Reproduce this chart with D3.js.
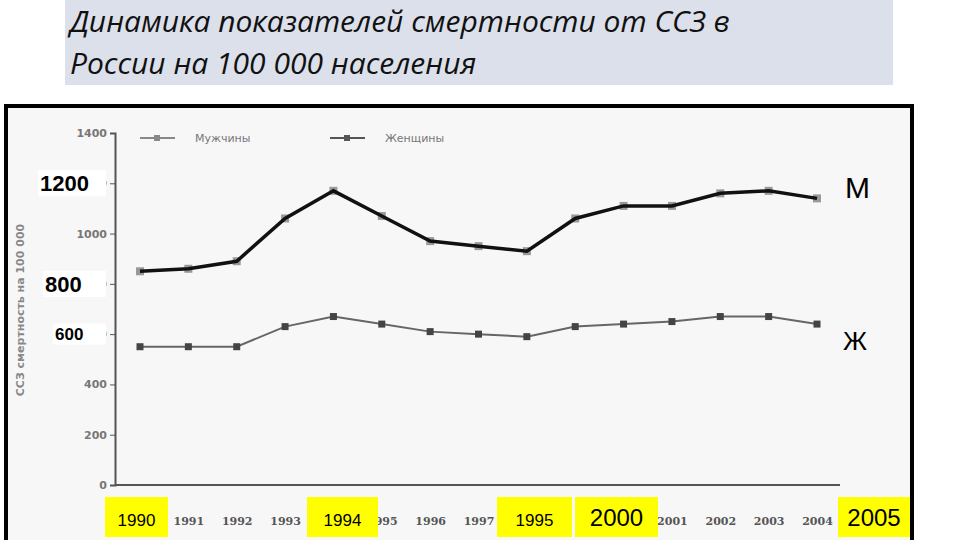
<!DOCTYPE html>
<html><head><meta charset="utf-8">
<script src="https://cdn.jsdelivr.net/npm/d3@7"></script>
<style>body{margin:0;background:#fff}svg{display:block}</style>
</head><body><div id="chart"></div>
<script>
(function () {
  "use strict";

  const years = ["1990","1991","1992","1993","1994","1995","1996","1997","1998","1999","2000","2001","2002","2003","2004"];
  const men = [850, 860, 890, 1060, 1170, 1070, 970, 950, 930, 1060, 1110, 1110, 1160, 1170, 1140];
  const women = [550, 550, 550, 630, 670, 640, 610, 600, 590, 630, 640, 650, 670, 670, 640];
  const yTicks = [0, 200, 400, 600, 800, 1000, 1200, 1400];
  const hiddenYears = ["1990", "1994", "1998", "1999"];
  const bigYLabels = [["1200", 1200, 40, 22], ["800", 800, 45, 22], ["600", 600, 55, 17]];
  const yellowLabels = [["1990", 105, 63], ["1994", 307, 71], ["1995", 497, 75], ["2000", 575, 83], ["2005", 838, 72]];

  const W = 960, H = 540;
  const svg = d3.select("#chart").append("svg").attr("width", W).attr("height", H);

  // Title
  svg.append("rect").attr("x", 65).attr("y", 0).attr("width", 828).attr("height", 85).attr("fill", "#dbe0ea");
  const title = svg.append("text").attr("font-family", "Open Sans, sans-serif").attr("font-style", "italic")
    .attr("font-size", 30).attr("fill", "#111");
  title.append("tspan").attr("x", 70).attr("y", 32).text("Динамика показателей смертности от ССЗ в");
  title.append("tspan").attr("x", 70).attr("y", 74).text("России на 100 000 населения");

  // Frame
  svg.append("rect").attr("x", 6).attr("y", 106).attr("width", 906).attr("height", 440)
    .attr("fill", "#f7f7f7").attr("stroke", "#000").attr("stroke-width", 4);

  const x = d3.scalePoint().domain(years).range([140, 817]);
  const y = d3.scaleLinear().domain([0, 1400]).range([485, 133]);

  const g = svg.append("g");
  g.append("g").attr("transform", "translate(115,0)")
    .call(d3.axisLeft(y).tickValues(yTicks).tickSize(5).tickFormat(d3.format("d")))
    .call(a => a.select(".domain").attr("stroke", "#555").attr("stroke-width", 2))
    .call(a => a.selectAll("line").attr("stroke", "#555"))
    .call(a => a.selectAll("text").attr("font-family", "DejaVu Sans").attr("font-weight", "bold")
      .attr("font-size", 11).attr("fill", "#777"));
  g.append("line").attr("x1", 115).attr("x2", 840).attr("y1", 485).attr("y2", 485).attr("stroke", "#555").attr("stroke-width", 2);
  g.append("g").attr("transform", "translate(0,485)")
    .call(d3.axisBottom(x).tickSize(0).tickPadding(32)
      .tickFormat(d => hiddenYears.includes(d) ? "" : d))
    .call(a => a.select(".domain").remove())
    .call(a => a.selectAll("text").attr("font-family", "DejaVu Serif").attr("font-weight", "bold")
      .attr("font-size", 11).attr("fill", "#555"));

  g.append("text").attr("transform", "translate(24,310) rotate(-90)").attr("text-anchor", "middle")
    .attr("font-family", "DejaVu Sans").attr("font-weight", "bold").attr("font-size", 11).attr("fill", "#888")
    .text("ССЗ смертность на 100 000");

  // Legend
  [["Мужчины", 140, "#888"], ["Женщины", 330, "#555"]].forEach(([t, lx, c]) => {
    g.append("line").attr("x1", lx).attr("x2", lx + 35).attr("y1", 138).attr("y2", 138).attr("stroke", c).attr("stroke-width", 2);
    g.append("rect").attr("x", lx + 14).attr("y", 135).attr("width", 6).attr("height", 6).attr("fill", c);
    g.append("text").attr("x", lx + 55).attr("y", 142).attr("font-family", "DejaVu Sans").attr("font-size", 11)
      .attr("fill", "#777").text(t);
  });

  const line = d3.line().x((d, i) => x(years[i])).y(d => y(d));
  g.append("path").datum(men).attr("d", line).attr("fill", "none").attr("stroke", "#999").attr("stroke-width", 2);
  g.selectAll(".mm").data(men).enter().append("rect")
    .attr("x", (d, i) => x(years[i]) - 4).attr("y", d => y(d) - 4).attr("width", 8).attr("height", 8).attr("fill", "#999");
  g.append("path").datum(men).attr("d", line).attr("fill", "none").attr("stroke", "#111").attr("stroke-width", 3.5);
  g.append("path").datum(women).attr("d", line).attr("fill", "none").attr("stroke", "#666").attr("stroke-width", 2);
  g.selectAll(".wm").data(women).enter().append("rect")
    .attr("x", (d, i) => x(years[i]) - 3.5).attr("y", d => y(d) - 3.5).attr("width", 7).attr("height", 7).attr("fill", "#444");

  // Overlay labels (cover the original tick labels)
  bigYLabels.forEach(([t, v, lx, fs]) => {
    g.append("rect").attr("x", lx - 2).attr("y", y(v) - fs / 2 - 2).attr("width", 108 - lx).attr("height", fs + 4)
      .attr("fill", "#fff");
    g.append("text").attr("x", lx).attr("y", y(v) + fs * 0.36).attr("font-family", "Liberation Sans Narrow, Liberation Sans")
      .attr("font-weight", "bold").attr("font-size", fs).attr("fill", "#000").text(t);
  });
  g.append("text").attr("x", 845).attr("y", 198).attr("font-family", "Liberation Sans").attr("font-size", 30).text("М");
  g.append("text").attr("x", 843).attr("y", 350).attr("font-family", "Liberation Sans").attr("font-size", 26).text("Ж");

  yellowLabels.forEach(([t, lx, w]) => {
    g.append("rect").attr("x", lx).attr("y", 497).attr("width", w).attr("height", 40).attr("fill", "#ffff00");
    g.append("text").attr("x", lx + w / 2).attr("y", 526).attr("text-anchor", "middle")
      .attr("font-family", t === "2000" || t === "2005" ? "Liberation Sans" : "Liberation Sans Narrow, Liberation Sans")
      .attr("font-size", t === "2000" || t === "2005" ? 24 : 17).attr("fill", "#000").text(t);
  });
})();
</script></body></html>
